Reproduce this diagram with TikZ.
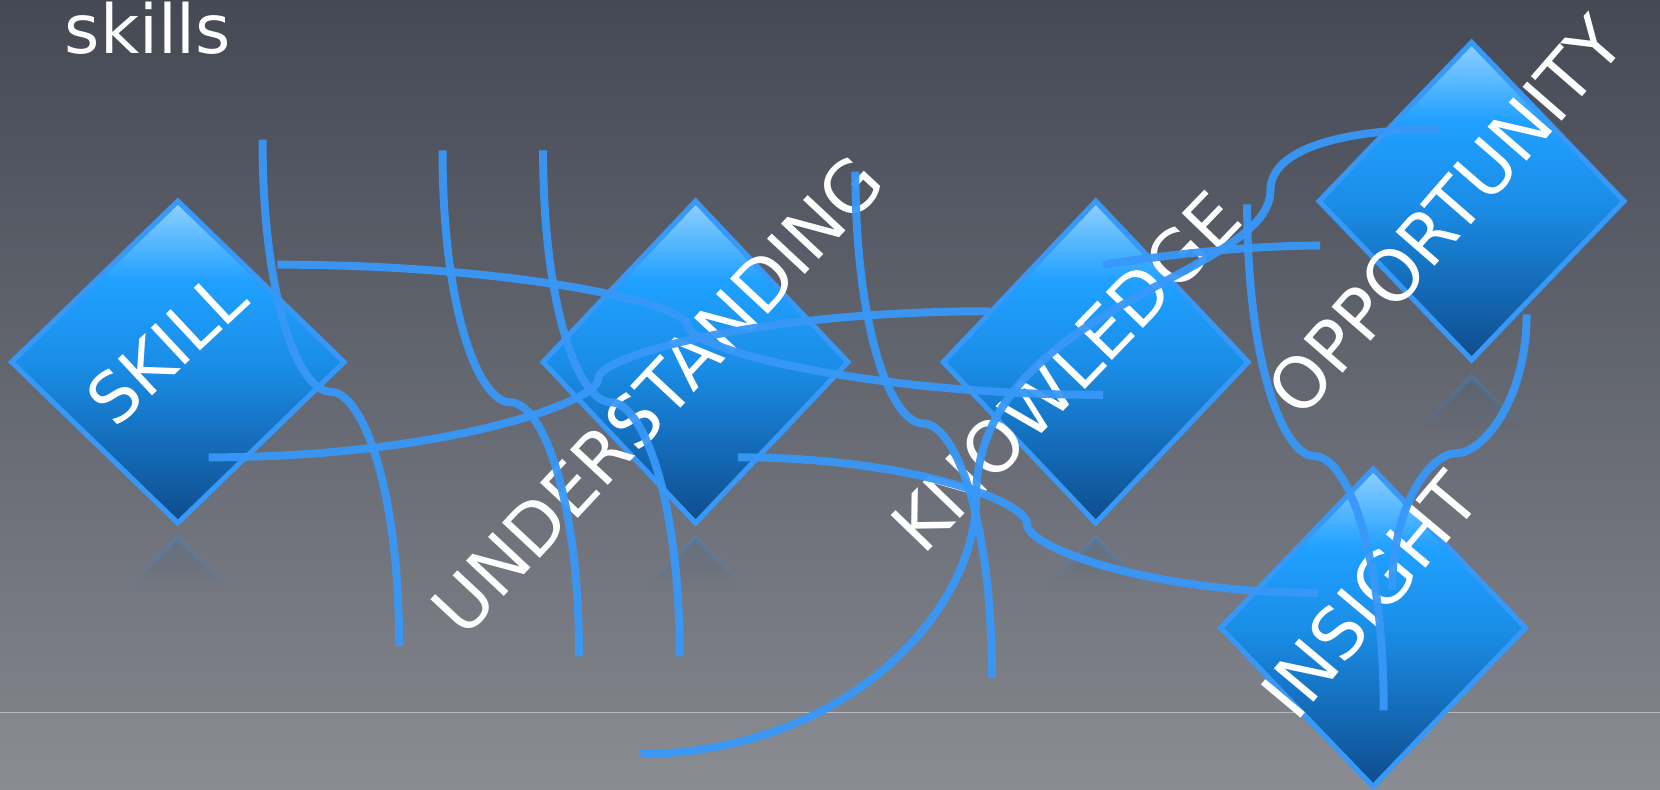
\documentclass[tikz,border=0pt]{standalone}
\usepackage{fontspec}
\setmainfont{DejaVu Sans}
\usetikzlibrary{shapes.geometric,fadings}

\definecolor{bgtop}{HTML}{454954}
\definecolor{bgbot}{HTML}{7E8188}
\definecolor{bglow}{HTML}{83868C}
\definecolor{hlinec}{HTML}{B6B8BB}
\definecolor{lineblue}{HTML}{3898F8}
\definecolor{dtop}{HTML}{8FD0FF}
\definecolor{dbright}{HTML}{1FA0FF}
\definecolor{dmid}{HTML}{1A8EE8}
\definecolor{dbot}{HTML}{0F4C8C}

\pgfdeclareverticalshading{dshade}{100bp}{color(0bp)=(dbot); color(25bp)=(dbot); color(50bp)=(dmid); color(62.5bp)=(dbright); color(75bp)=(dtop); color(100bp)=(dtop)}
\tikzfading[name=reflfade, top color=transparent!75, bottom color=transparent!100]
\tikzfading[name=reflfadeb, top color=transparent!88, bottom color=transparent!100]

\tikzset{
  gem/.style={shape=diamond, draw=lineblue, line width=4.8pt, shading=dshade, inner sep=0pt, outer sep=0pt},
  lbl/.style={text=white, font=\fontsize{67}{72}\selectfont, inner sep=0pt},
  link/.style={draw=lineblue, line width=7.5pt, draw opacity=0.95, line cap=butt},
  refl/.style={fill=dbot, path fading=reflfadeb},
  reflline/.style={draw=lineblue, line width=4.5pt, path fading=reflfade},
}

\begin{document}
\begin{tikzpicture}[x=1pt,y=-1pt]
\useasboundingbox (0,0) rectangle (1568,746);
% background
\shade[top color=bgtop, bottom color=bgbot] (0,0) rectangle (1568,673);
\shade[top color=bglow, bottom color=bglow!95!white] (0,673) rectangle (1568,746);
\coordinate (hl) at (0,673);
\coordinate (hr) at (1568,673);
\draw[hlinec, line width=1.2pt] (hl) -- (hr);

% reflections
\foreach \x/\y in {168/508, 657/508, 1035/508, 1390/356}{
  \fill[refl] (\x,\y) -- ++(50,50) -- ++(-100,0) -- cycle;
  \draw[reflline] (\x-50,\y+50) -- (\x,\y) -- (\x+50,\y+50);
}

% diamonds
\node[gem, minimum width=314pt, minimum height=304pt] (dSkill) at (168,342) {};
\node[gem, minimum width=288pt, minimum height=304pt] (dUnder) at (657,342) {};
\node[gem, minimum width=288pt, minimum height=304pt] (dKnow) at (1035,342) {};
\node[gem, minimum width=288pt, minimum height=300pt] (dOpp) at (1390,190) {};
\node[gem, minimum width=288pt, minimum height=300pt] (dIns) at (1297,593) {};

% labels
\node[lbl, font=\fontsize{65}{70}\selectfont, rotate=43] (tSkill) at (157,329) {SKILL};
\node[lbl, rotate=47] (tUnder) at (621,373) {UNDERSTANDING};
\node[lbl, rotate=46] (tKnow) at (1007,351) {KNOWLEDGE};
\node[lbl, rotate=49] (tOpp) at (1365,204) {OPPORTUNITY};
\node[lbl, rotate=50] (tIns) at (1294,562) {INSIGHT};

% vertical curved links
\foreach \n/\x/\y in {1/248/132, 2/418/142, 3/513/142, 4/808/162, 5/1178/193}{
  \coordinate (v\n t) at (\x,\y);
  \coordinate (v\n k) at (\x+64,\y+238);
  \coordinate (v\n b) at (\x+129,\y+478);
  \draw[link] (v\n t) .. controls +(0,150) and +(-30,0) .. (v\n k)
                     .. controls +(30,0) and +(0,-150) .. (v\n b);
}
\coordinate (v6t) at (1442,297);
\coordinate (v6k) at (1376,428);
\coordinate (v6b) at (1315,557);
\draw[link] (v6t) .. controls +(0,80) and +(25,0) .. (v6k)
                 .. controls +(-25,0) and +(0,-80) .. (v6b);

% horizontal curved links
\coordinate (h1s) at (262,250);
\coordinate (h1k) at (650,308);
\coordinate (h1e) at (1042,373);
\draw[link] (h1s) .. controls +(220,0) and +(0,-22) .. (h1k)
                 .. controls +(0,22) and +(-220,0) .. (h1e);
\coordinate (h2s) at (197,432);
\coordinate (h2k) at (565,358);
\coordinate (h2e) at (935,294);
\draw[link] (h2s) .. controls +(220,0) and +(0,22) .. (h2k)
                 .. controls +(0,-22) and +(-220,0) .. (h2e);
\coordinate (h3s) at (697,432);
\coordinate (h3k) at (970,495);
\coordinate (h3e) at (1245,560);
\draw[link] (h3s) .. controls +(160,0) and +(0,-22) .. (h3k)
                 .. controls +(0,22) and +(-160,0) .. (h3e);
\coordinate (h4s) at (1042,250);
\coordinate (h4e) at (1247,232);
\draw[link] (h4s) .. controls +(80,-12) and +(-60,0) .. (h4e);

% long curve
\coordinate (c1s) at (605,712);
\coordinate (c1m) at (922,470);
\coordinate (c1k) at (1200,180);
\coordinate (c1e) at (1360,122);
\draw[link] (c1s) .. controls +(190,0) and +(0,110) .. (c1m)
                 .. controls +(0,-180) and +(0,80) .. (c1k)
                 .. controls +(0,-40) and +(-90,0) .. (c1e);

% title
\node[anchor=base west, text=white, font=\fontsize{64}{70}\selectfont, inner sep=0pt] (title) at (61,51) {skills};
\end{tikzpicture}
\end{document}
